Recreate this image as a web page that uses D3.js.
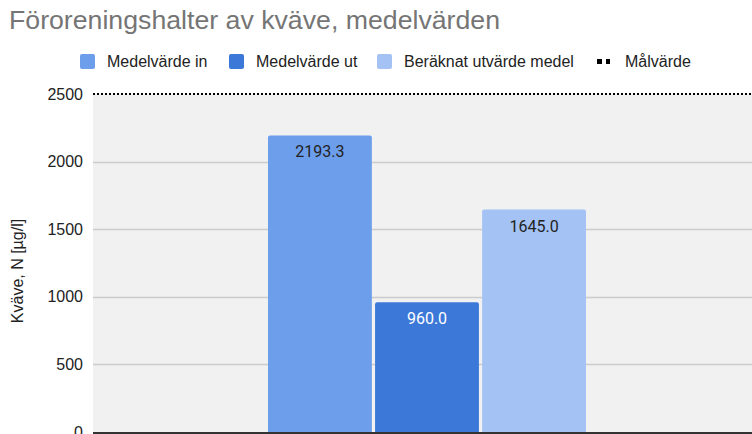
<!DOCTYPE html>
<html lang="sv">
<head>
	<meta charset="utf-8">
	<title>Föroreningshalter av kväve</title>
	<script src="https://d3js.org/d3.v7.min.js"></script>
	<style>
		body { margin: 0; background: #fff; }
		svg { display: block; }
	</style>
</head>
<body>
	<script>
		var series = ["Medelvärde in", "Medelvärde ut", "Beräknat utvärde medel"];
		var values = [2193.3, 960.0, 1645.0];
		var colors = ["#6d9eeb", "#3c78d8", "#a4c2f4"];
		var targetName = "Målvärde";
		var targetValue = 2500;
		var yTicks = [0, 500, 1000, 1500, 2000, 2500];

		var w = 752;
		var h = 434;
		var plotLeft = 93, plotRight = 761, plotTop = 94, plotBottom = 432;

		var svg = d3.select("body")
			.append("svg")
			.attr("width", w)
			.attr("height", h);

		var font = "'Liberation Sans', Arial, sans-serif";

		// title
		svg.append("text")
			.attr("x", 9)
			.attr("y", 29)
			.attr("font-family", font)
			.attr("font-size", 26.7)
			.attr("fill", "#757575")
			.text("Föroreningshalter av kväve, medelvärden");

		var yScale = d3.scaleLinear()
			.domain([0, 2500])
			.range([plotBottom, plotTop]);

		// plot background
		svg.append("rect")
			.attr("x", plotLeft)
			.attr("y", plotTop)
			.attr("width", plotRight - plotLeft)
			.attr("height", plotBottom - plotTop)
			.attr("fill", "#f1f1f1");

		// grid lines
		svg.selectAll(".grid")
			.data(yTicks.filter(function(d) { return d > 0 && d < targetValue; }))
			.enter()
			.append("line")
			.attr("x1", plotLeft)
			.attr("x2", plotRight)
			.attr("y1", function(d) { return Math.round(yScale(d)) + 0.5; })
			.attr("y2", function(d) { return Math.round(yScale(d)) + 0.5; })
			.attr("stroke", "#cccccc")
			.attr("stroke-width", 1.5);

		// y axis labels
		var yAxis = d3.axisLeft(yScale)
			.tickValues(yTicks)
			.tickFormat(d3.format("d"))
			.tickSize(0)
			.tickPadding(10);
		var gy = svg.append("g")
			.attr("transform", "translate(" + plotLeft + ",0)")
			.call(yAxis);
		gy.select(".domain").remove();
		gy.selectAll("text")
			.attr("font-family", font)
			.attr("font-size", 16)
			.attr("fill", "#222");

		// axis title
		svg.append("text")
			.attr("transform", "translate(23,271) rotate(-90)")
			.attr("text-anchor", "middle")
			.attr("font-family", font)
			.attr("font-size", 16)
			.attr("fill", "#222")
			.text("Kväve, N [µg/l]");

		// bars
		var xScale = d3.scaleBand()
			.domain(series)
			.range([268, 586])
			.paddingInner(0.03);

		svg.selectAll(".bar")
			.data(values)
			.enter()
			.append("path")
			.attr("d", function(d, i) {
				var x = xScale(series[i]), bw = xScale.bandwidth();
				var y = yScale(d), r = 2;
				return "M" + x + "," + plotBottom +
					"V" + (y + r) + "Q" + x + "," + y + " " + (x + r) + "," + y +
					"H" + (x + bw - r) + "Q" + (x + bw) + "," + y + " " + (x + bw) + "," + (y + r) +
					"V" + plotBottom + "Z";
			})
			.attr("fill", function(d, i) { return colors[i]; });

		// data labels
		svg.selectAll(".label")
			.data(values)
			.enter()
			.append("text")
			.attr("x", function(d, i) { return xScale(series[i]) + xScale.bandwidth() / 2; })
			.attr("y", function(d) { return yScale(d) + 22; })
			.attr("text-anchor", "middle")
			.attr("font-family", "Roboto, sans-serif")
			.attr("font-size", 16)
			.attr("fill", function(d, i) { return i === 1 ? "#ffffff" : "#222"; })
			.text(function(d) { return d.toFixed(1); });

		// baseline
		svg.append("line")
			.attr("x1", plotLeft)
			.attr("x2", plotRight)
			.attr("y1", yScale(0) + 1)
			.attr("y2", yScale(0) + 1)
			.attr("stroke", "#333")
			.attr("stroke-width", 2);

		// target line
		svg.append("line")
			.attr("x1", plotLeft)
			.attr("x2", plotRight)
			.attr("y1", yScale(targetValue))
			.attr("y2", yScale(targetValue))
			.attr("stroke", "#000")
			.attr("stroke-width", 2)
			.attr("stroke-dasharray", "2,2");

		// legend
		var legendX = [80, 229, 377];
		var legend = svg.append("g");
		series.forEach(function(name, i) {
			legend.append("rect")
				.attr("x", legendX[i])
				.attr("y", 54)
				.attr("width", 15)
				.attr("height", 15)
				.attr("rx", 2)
				.attr("fill", colors[i]);
			legend.append("text")
				.attr("x", legendX[i] + 27)
				.attr("y", 67)
				.attr("font-family", font)
				.attr("font-size", 16)
				.attr("fill", "#222")
				.text(name);
		});
		legend.append("line")
			.attr("x1", 597)
			.attr("x2", 610)
			.attr("y1", 61.5)
			.attr("y2", 61.5)
			.attr("stroke", "#000")
			.attr("stroke-width", 5)
			.attr("stroke-dasharray", "5,4");
		legend.append("text")
			.attr("x", 625)
			.attr("y", 67)
			.attr("font-family", font)
			.attr("font-size", 16)
			.attr("fill", "#222")
			.text(targetName);
	</script>
</body>
</html>
